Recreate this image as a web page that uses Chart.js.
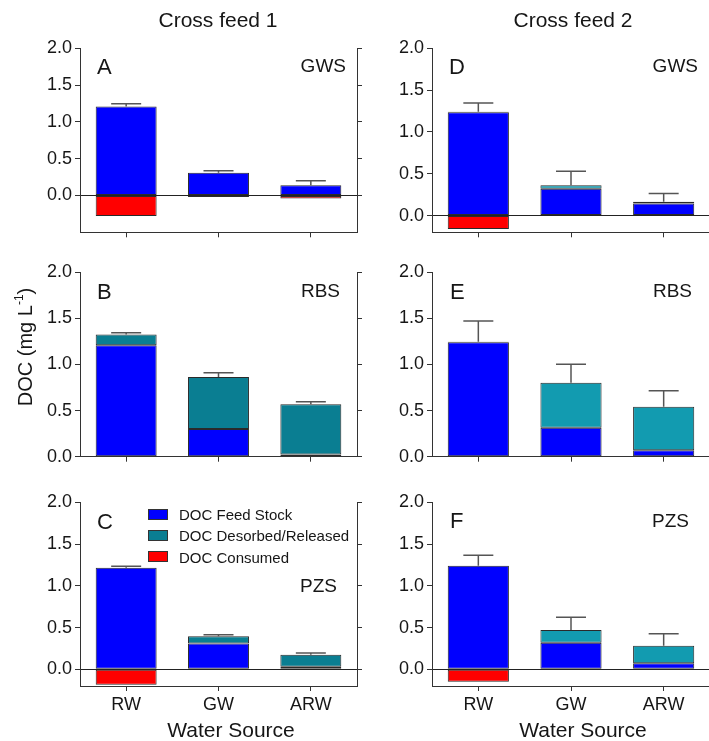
<!DOCTYPE html>
<html><head><meta charset="utf-8">
<script src="https://cdn.jsdelivr.net/npm/chart.js@4.4.1/dist/chart.umd.min.js"></script>
<style>
html,body{margin:0;padding:0;background:#fff;overflow:hidden;width:709px;height:741px;font-family:"Liberation Sans",Arial,sans-serif;color:#161616}
.t{position:absolute;white-space:nowrap;line-height:1}
canvas{position:absolute}
.lg{position:absolute;width:20px;height:11px;box-sizing:border-box;border:1px solid #333}
sup{font-size:0.6em;vertical-align:0.75em;line-height:0}
</style></head><body>

<script>
// ---- data ----
const categories = ['RW', 'GW', 'ARW'];
const seriesNames = ['DOC Feed Stock', 'DOC Desorbed/Released', 'DOC Consumed'];
const yTicks = [0.0, 0.5, 1.0, 1.5, 2.0];

// Cross feed 1
const feedA = [1.21, 0.31, 0.14];
const desA  = [0, 0, 0];
const conA  = [-0.28, -0.02, -0.04];
const errA  = [0.035, 0.025, 0.06];

const feedB = [1.21, 0.30, 0.025];
const desB  = [0.115, 0.565, 0.545];
const conB  = [0, 0, 0];
const errB  = [0.02, 0.045, 0.025];

const feedC = [1.215, 0.31, 0.03];
const desC  = [0, 0.085, 0.145];
const conC  = [-0.185, 0, 0];
const errC  = [0.02, 0.02, 0.02];

// Cross feed 2
const feedD = [1.235, 0.32, 0.145];
const desD  = [0.005, 0.042, 0.02];
const conD  = [-0.16, 0, 0];
const errD  = [0.107, 0.167, 0.10];

const feedE = [1.24, 0.315, 0.07];
const desE  = [0.008, 0.488, 0.473];
const conE  = [0, 0, 0];
const errE  = [0.225, 0.20, 0.173];

const feedF = [1.24, 0.317, 0.072];
const desF  = [0, 0.153, 0.209];
const conF  = [-0.15, 0, 0];
const errF  = [0.125, 0.152, 0.144];

// ---- styles ----
const FONT = '"Liberation Sans", Arial, sans-serif';
const BLUE = '#0000ff', RED = '#ff0000', TEAL1 = '#0a7e92', TEAL2 = '#129bb0';
const EDGE = '#2a2a2a', AXIS = '#333333', ERR = '#555555', TXT = '#161616';

const panels = [
  {feed:feedA, des:desA, con:conA, err:errA, min:-0.5, teal:TEAL1, left:0,   w:363, top:30,  h:220, padTop:18.3, xh:17.7, xlab:false},
  {feed:feedB, des:desB, con:conB, err:errB, min:0,    teal:TEAL1, left:0,   w:363, top:254, h:222, padTop:18.3, xh:19.3, xlab:false},
  {feed:feedC, des:desC, con:conC, err:errC, min:-0.2, teal:TEAL1, left:0,   w:363, top:484, h:241, padTop:18.3, xh:39,   xlab:true},
  {feed:feedD, des:desD, con:conD, err:errD, min:-0.2, teal:TEAL2, left:352, w:364, top:30,  h:220, padTop:18.3, xh:17.7, xlab:false},
  {feed:feedE, des:desE, con:conE, err:errE, min:0,    teal:TEAL2, left:352, w:364, top:254, h:222, padTop:18.3, xh:19.3, xlab:false},
  {feed:feedF, des:desF, con:conF, err:errF, min:-0.2, teal:TEAL2, left:352, w:364, top:484, h:241, padTop:18.3, xh:39,   xlab:true}
];

function errBars(errs){
  return {id:'errbars', afterDatasetsDraw(chart){
    const ctx = chart.ctx, xs = chart.scales.x, ys = chart.scales.y;
    ctx.save(); ctx.strokeStyle = ERR; ctx.lineWidth = 1.5;
    errs.forEach((e, i) => {
      let top = 0;
      chart.data.datasets.forEach(ds => { const v = ds.data[i]; if (v > 0) top += v; });
      const px = xs.getPixelForValue(i), y0 = ys.getPixelForValue(top), y1 = ys.getPixelForValue(top + e);
      ctx.beginPath();
      ctx.moveTo(px, y0); ctx.lineTo(px, y1);
      ctx.moveTo(px - 15, y1); ctx.lineTo(px + 15, y1);
      ctx.stroke();
    });
    ctx.restore();
  }};
}

const setTicks = s => { s.ticks = yTicks.map(v => ({value: v})); };
const tickCb = v => v.toFixed(1);

function makeChart(p){
  const c = document.createElement('canvas');
  c.width = p.w; c.height = p.h;
  c.style.left = p.left + 'px'; c.style.top = p.top + 'px';
  c.style.width = p.w + 'px'; c.style.height = p.h + 'px';
  document.body.appendChild(c);
  const dsBase = {borderColor:EDGE, borderWidth:1, borderSkipped:false};
  new Chart(c, {
    type:'bar',
    data:{labels:categories, datasets:[
      Object.assign({label:seriesNames[0], data:p.feed, backgroundColor:BLUE}, dsBase),
      Object.assign({label:seriesNames[1], data:p.des, backgroundColor:p.teal}, dsBase),
      Object.assign({label:seriesNames[2], data:p.con, backgroundColor:RED}, dsBase)
    ]},
    options:{
      responsive:false, animation:false, devicePixelRatio:1,
      layout:{padding:{top:p.padTop, left:0, right:0, bottom:0}},
      plugins:{legend:{display:false}, tooltip:{enabled:false}},
      datasets:{bar:{categoryPercentage:1, barPercentage:0.66}},
      scales:{
        x:{stacked:true,
           grid:{offset:false, drawOnChartArea:false, tickLength:5, tickColor:AXIS, color:AXIS},
           border:{color:AXIS, width:1},
           ticks:{display:p.xlab, color:TXT, font:{size:18, family:FONT}, padding:3, maxRotation:0},
           afterFit:s => { s.height = p.xh; }},
        y:{stacked:true, min:p.min, max:2,
           afterBuildTicks:setTicks,
           ticks:{callback:tickCb, color:TXT, font:{size:18, family:FONT}, padding:3},
           grid:{color:ctx => (ctx.tick && Math.abs(ctx.tick.value) < 1e-9) ? '#222' : 'rgba(0,0,0,0)', tickColor:AXIS, tickLength:5, lineWidth:1},
           border:{color:AXIS, width:1},
           afterFit:s => { s.width = 80; }},
        y2:{position:'right', min:p.min, max:2,
           afterBuildTicks:setTicks,
           ticks:{callback:tickCb, color:'rgba(0,0,0,0)', font:{size:10}},
           grid:{drawOnChartArea:false, tickLength:5, tickColor:AXIS, color:AXIS},
           border:{color:AXIS, width:1},
           afterFit:s => { s.width = 6; }}
      }
    },
    plugins:[errBars(p.err)]
  });
}
panels.forEach(makeChart);

// ---- text ----
function txt(s, x, y, size, anchor){
  const d = document.createElement('div');
  d.className = 't'; d.innerHTML = s;
  d.style.left = x + 'px'; d.style.top = y + 'px'; d.style.fontSize = size + 'px';
  const tx = anchor === 'c' ? '-50%' : (anchor === 'r' ? '-100%' : '0');
  d.style.transform = 'translate(' + tx + ',-50%)';
  document.body.appendChild(d);
  return d;
}
txt('Cross feed 1', 218, 19, 21, 'c');
txt('Cross feed 2', 573, 19, 21, 'c');
const yl = txt('DOC (mg L<sup>-1</sup>)', 25, 347, 20, 'c');
yl.style.transform = 'translate(-50%,-50%) rotate(-90deg)';
txt('Water Source', 231, 729, 21, 'c');
txt('Water Source', 583, 729, 21, 'c');

txt('A', 97, 67, 22, 'l');  txt('GWS', 346, 64.5, 19, 'r');
txt('B', 97, 292, 22, 'l'); txt('RBS', 340, 289.5, 19, 'r');
txt('C', 97, 522, 22, 'l'); txt('PZS', 337, 585, 19, 'r');
txt('D', 449, 67, 22, 'l'); txt('GWS', 698, 65, 19, 'r');
txt('E', 450, 292, 22, 'l'); txt('RBS', 692, 289.5, 19, 'r');
txt('F', 450, 521, 22, 'l'); txt('PZS', 689, 519.5, 19, 'r');

// legend (panel C)
const legColors = [BLUE, TEAL1, RED];
const legY = [514, 535, 556.5];
seriesNames.forEach((n, i) => {
  const b = document.createElement('div');
  b.className = 'lg'; b.style.background = legColors[i];
  b.style.left = '148px'; b.style.top = (legY[i] - 5.5) + 'px';
  document.body.appendChild(b);
  txt(n, 179, legY[i], 15, 'l');
});
</script>
</body></html>
